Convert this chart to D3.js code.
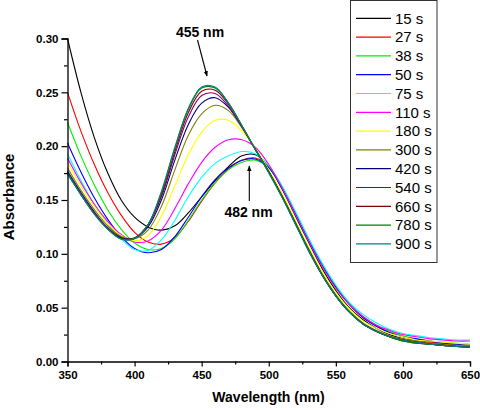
<!DOCTYPE html>
<html>
<head>
<meta charset="utf-8">
<script src="https://cdn.jsdelivr.net/npm/d3@7/dist/d3.min.js"></script>
<style>
  html, body { margin: 0; padding: 0; background: #fff; }
  svg { display: block; }
  text { font-family: "Liberation Sans", Arial, sans-serif; }
</style>
</head>
<body>
<svg id="chart" width="480" height="410"></svg>
<script>
// ---------- data ----------
const wavelengths = [350,360,370,380,390,400,410,420,430,440,450,460,470,480,490,500,510,520,530,540,550,560,570,580,590,600,610,620,630,640,650];
const s15  = [.300,.250,.208,.175,.150,.134,.125,.122,.126,.138,.153,.168,.181,.191,.192,.181,.160,.135,.110,.086,.066,.050,.039,.031,.025,.021,.019,.017,.016,.015,.014];
const s27  = [.250,.214,.183,.157,.136,.120,.111,.109,.115,.130,.149,.166,.179,.187,.189,.181,.162,.138,.113,.089,.069,.053,.041,.033,.027,.023,.020,.018,.017,.016,.015];
const s38  = [.222,.191,.164,.141,.123,.110,.104,.105,.114,.131,.150,.166,.178,.185,.187,.180,.162,.138,.113,.090,.070,.054,.042,.034,.028,.024,.021,.019,.018,.017,.016];
const s50  = [.203,.176,.152,.132,.116,.105,.101,.104,.116,.134,.153,.169,.180,.187,.188,.180,.161,.137,.112,.089,.069,.053,.041,.033,.027,.023,.021,.019,.017,.016,.015];
const s75  = [.193,.168,.146,.128,.114,.104,.103,.113,.131,.153,.171,.184,.191,.195,.193,.182,.163,.139,.114,.091,.071,.055,.044,.036,.030,.026,.024,.022,.021,.020,.020];
const s110 = [.189,.166,.146,.130,.118,.111,.112,.122,.142,.165,.185,.199,.206,.206,.199,.183,.161,.136,.111,.088,.068,.053,.042,.034,.029,.025,.023,.021,.020,.019,.019];
const s180 = [.185,.163,.144,.128,.117,.112,.117,.135,.163,.192,.213,.224,.224,.214,.198,.178,.156,.131,.106,.083,.064,.049,.038,.031,.026,.023,.020,.019,.018,.017,.016];
const s300 = [.180,.159,.141,.126,.116,.114,.122,.144,.178,.210,.230,.238,.233,.217,.197,.177,.154,.129,.104,.081,.062,.047,.036,.029,.024,.021,.019,.017,.016,.015,.015];
const s420 = [.177,.157,.139,.124,.115,.1145,.125,.150,.187,.220,.240,.245,.236,.218,.197,.176,.153,.128,.103,.080,.061,.046,.035,.028,.023,.020,.018,.016,.015,.014,.014];
const s540 = [.176,.156,.138,.124,.1145,.115,.127,.153,.192,.227,.247,.249,.237,.218,.197,.176,.153,.128,.103,.080,.061,.046,.035,.028,.023,.020,.018,.016,.015,.014,.014];
const s660 = [.175,.155,.137,.123,.114,.1145,.127,.155,.195,.231,.251,.252,.239,.219,.197,.176,.153,.128,.102,.080,.061,.046,.035,.028,.023,.019,.017,.016,.015,.014,.013];
const s780 = [.175,.155,.137,.123,.114,.1145,.127,.157,.198,.234,.254,.254,.240,.219,.197,.176,.153,.128,.103,.080,.061,.046,.035,.028,.023,.019,.017,.016,.015,.014,.013];
const s900 = [.174,.155,.137,.123,.1135,.114,.127,.158,.199,.235,.255,.255,.240,.219,.197,.175,.152,.127,.102,.080,.061,.046,.035,.028,.023,.020,.018,.016,.015,.014,.0135];
const seriesLabels = ["15 s","27 s","38 s","50 s","75 s","110 s","180 s","300 s","420 s","540 s","660 s","780 s","900 s"];
const seriesValues = [s15,s27,s38,s50,s75,s110,s180,s300,s420,s540,s660,s780,s900];
const seriesColors = ["#000000","#ff0000","#00ee00","#0000ff","#00ffff","#ff00ff","#ffff00","#808000","#000080","#800080","#800000","#008000","#008080"];
const xTicks = [350,400,450,500,550,600,650];
const yTicks = [0.00,0.05,0.10,0.15,0.20,0.25,0.30];
const annotations = [
  {label:"455 nm", tx:200, ty:36.5, x1:197.5, y1:40, x2:207, y2:76},
  {label:"482 nm", tx:248.5, ty:216.5, x1:249.3, y1:201, x2:249.3, y2:166}
];

// ---------- chart ----------
const svg = d3.select("#chart");
const x = d3.scaleLinear().domain([350,650]).range([67.5,470]);
const y = d3.scaleLinear().domain([0,0.30]).range([361.5,38.5]);

svg.append("defs").append("marker")
  .attr("id","arrow").attr("viewBox","0 0 10 10").attr("refX",9).attr("refY",5)
  .attr("markerWidth",5).attr("markerHeight",6).attr("orient","auto")
  .append("path").attr("d","M0,1 L10,5 L0,9 Z").attr("fill","#000");

const line = d3.line()
  .x((d,i)=>x(wavelengths[i]))
  .y(d=>y(d))
  .curve(d3.curveCatmullRom.alpha(0.5));

const g = svg.append("g");
seriesValues.forEach((vals,k)=>{
  g.append("path").attr("d", line(vals))
    .attr("fill","none").attr("stroke", seriesColors[k]).attr("stroke-width",1.1);
});

// axes
const xAxis = d3.axisBottom(x).tickValues(xTicks).tickFormat(d3.format("d")).tickSize(5).tickPadding(4);
const xMinor = d3.axisBottom(x).tickValues(d3.range(375,650,50)).tickFormat("").tickSize(3);
const yAxis = d3.axisLeft(y).tickValues(yTicks).tickFormat(d3.format(".2f")).tickSize(6).tickPadding(3);
const yMinor = d3.axisLeft(y).tickValues(d3.range(0.025,0.3,0.05)).tickFormat("").tickSize(3.5);

function styleAxis(sel){
  sel.select(".domain").attr("stroke","#000").attr("stroke-width",1.3);
  sel.selectAll(".tick line").attr("stroke","#000").attr("stroke-width",1.2);
  sel.selectAll(".tick text").attr("font-size","11.5px").attr("font-weight","bold").attr("fill","#000")
    .attr("font-family","'Liberation Sans', Arial, sans-serif");
}
const gx = svg.append("g").attr("transform",`translate(0,${y(0)})`).call(xAxis); styleAxis(gx);
const gxm = svg.append("g").attr("transform",`translate(0,${y(0)})`).call(xMinor); styleAxis(gxm);
const gy = svg.append("g").attr("transform",`translate(${x(350)},0)`).call(yAxis); styleAxis(gy);
const gym = svg.append("g").attr("transform",`translate(${x(350)},0)`).call(yMinor); styleAxis(gym);
gxm.select(".domain").remove(); gym.select(".domain").remove();

// axis titles
svg.append("text").attr("x",268.5).attr("y",402).attr("text-anchor","middle")
  .attr("font-size","14px").attr("font-weight","bold").text("Wavelength (nm)");
svg.append("text").attr("transform","translate(13.5,197) rotate(-90)").attr("text-anchor","middle")
  .attr("font-size","15px").attr("font-weight","bold").text("Absorbance");

// annotations
annotations.forEach(a=>{
  svg.append("text").attr("x",a.tx).attr("y",a.ty).attr("text-anchor","middle")
    .attr("font-size","14px").attr("font-weight","bold").text(a.label);
  svg.append("line").attr("x1",a.x1).attr("y1",a.y1).attr("x2",a.x2).attr("y2",a.y2)
    .attr("stroke","#000").attr("stroke-width",1.1).attr("marker-end","url(#arrow)");
});

// legend
const lg = svg.append("g");
lg.append("rect").attr("x",350.5).attr("y",0.5).attr("width",86.5).attr("height",262)
  .attr("fill","#fff").attr("stroke","#333").attr("stroke-width",1);
seriesLabels.forEach((lab,k)=>{
  const yy = 18.3 + k*18.8;
  lg.append("line").attr("x1",356).attr("x2",391).attr("y1",yy).attr("y2",yy)
    .attr("stroke",seriesColors[k]).attr("stroke-width",1.2);
  lg.append("text").attr("x",395).attr("y",yy+5.3).attr("font-size","15px").attr("fill","#000").text(lab);
});
</script>
</body>
</html>
